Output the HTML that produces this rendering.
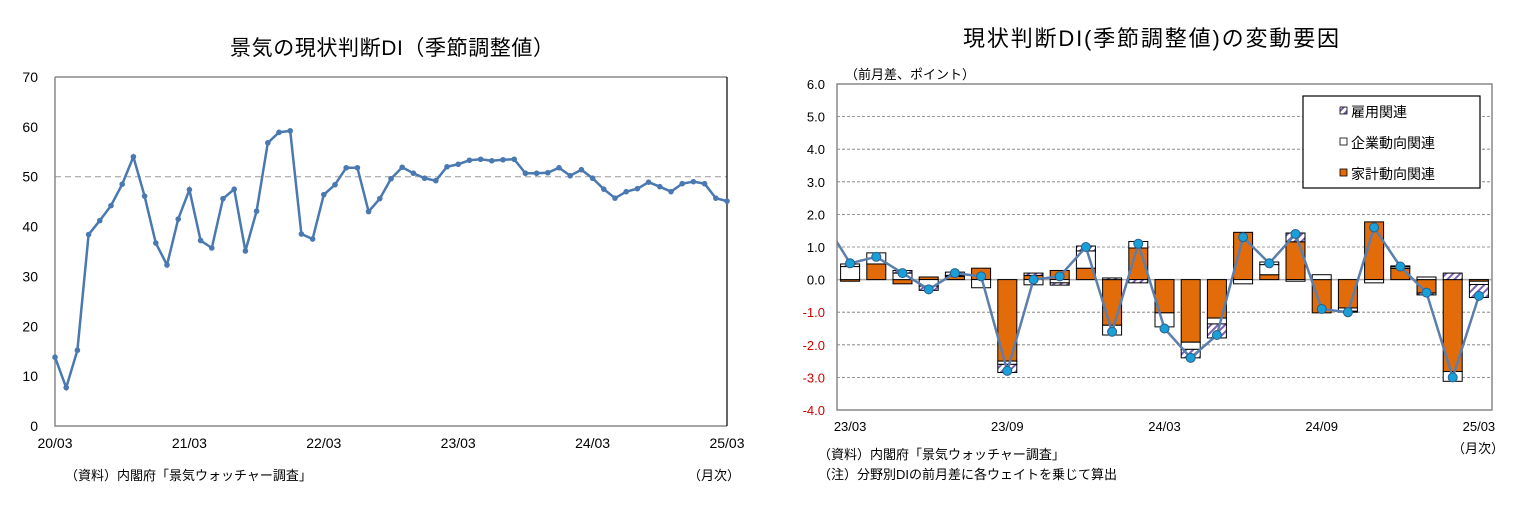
<!DOCTYPE html>
<html><head><meta charset="utf-8">
<style>
body{margin:0;background:#fff;width:1529px;height:521px;overflow:hidden;font-family:"Liberation Sans","Noto Sans CJK JP",sans-serif;}
svg text{font-family:"Liberation Sans","Noto Sans CJK JP",sans-serif;}
</style></head>
<body>
<svg id="svg" width="1529" height="521" xmlns="http://www.w3.org/2000/svg">
<defs>
<pattern id="hatch" width="5" height="5" patternUnits="userSpaceOnUse" patternTransform="rotate(45)">
<rect width="5" height="5" fill="#fff"/><rect width="2" height="5" fill="#7b5fb0"/>
</pattern>
</defs>
<text x="392" y="55" font-size="21" text-anchor="middle" textLength="324">景気の現状判断DI（季節調整値）</text>
<text x="1151" y="46" font-size="22" text-anchor="middle" textLength="376">現状判断DI(季節調整値)の変動要因</text>
<g id="left"></g>
<g id="right"></g>
<text x="65" y="480" font-size="13">（資料）内閣府「景気ウォッチャー調査」</text>
<text x="688" y="480" font-size="13">（月次）</text>
<text x="845" y="79" font-size="13">（前月差、ポイント）</text>
<text x="1452" y="453" font-size="13">（月次）</text>
<text x="818" y="459" font-size="13">（資料）内閣府「景気ウォッチャー調査」</text>
<text x="818" y="479" font-size="13">（注）分野別DIの前月差に各ウェイトを乗じて算出</text>
</svg>
<script>
// ---- left chart data ----
const diValues=[13.8,7.7,15.2,38.4,41.2,44.2,48.5,54.0,46.1,36.7,32.3,41.5,47.4,37.2,35.7,45.6,47.5,35.1,43.1,56.8,58.9,59.2,38.5,37.5,46.4,48.4,51.8,51.8,43.0,45.6,49.6,51.9,50.7,49.7,49.2,52.0,52.5,53.3,53.5,53.2,53.4,53.5,50.7,50.7,50.8,51.8,50.2,51.4,49.7,47.5,45.7,47.0,47.6,48.9,48.0,47.0,48.6,49.0,48.6,45.7,45.1];
const leftYTicks=[0,10,20,30,40,50,60,70];
const leftXLabels=["20/03","21/03","22/03","23/03","24/03","25/03"];
const leftRefLine=[50];
// ---- right chart data ----
const rightCats=["23/03","23/04","23/05","23/06","23/07","23/08","23/09","23/10","23/11","23/12","24/01","24/02","24/03","24/04","24/05","24/06","24/07","24/08","24/09","24/10","24/11","24/12","25/01","25/02","25/03"];
const household=[-0.05,0.48,-0.13,0.08,0.1,0.35,-2.5,0.13,0.28,0.35,-1.4,0.97,-1.02,-1.92,-1.18,1.45,0.15,1.16,-1.02,-0.87,1.77,0.34,-0.41,-2.82,-0.05];
const corporate=[0.4,0.34,0.2,-0.2,0.03,-0.25,-0.1,-0.16,-0.1,0.53,-0.3,0.2,-0.43,-0.22,-0.18,-0.13,0.31,-0.05,0.15,-0.1,-0.1,0.05,0.08,-0.3,-0.1];
const employment=[0.08,0,0.08,-0.13,0.1,0,-0.25,0.07,-0.07,0.15,0.05,-0.1,0,-0.26,-0.43,0,0.08,0.27,0,-0.03,0,0.03,-0.06,0.2,-0.4];
const totalDI=[0.5,0.7,0.2,-0.3,0.2,0.1,-2.8,0.0,0.1,1.0,-1.6,1.1,-1.5,-2.4,-1.7,1.3,0.5,1.4,-0.9,-1.0,1.6,0.4,-0.4,-3.0,-0.5];
const prevTotal=[1.8];
const rightYTicks=[-4,-3,-2,-1,0,1,2,3,4,5,6];
const rightXLabels=["23/03","23/09","24/03","24/09","25/03"];

const NS="http://www.w3.org/2000/svg";
function mk(parent,tag,attrs){const e=document.createElementNS(NS,tag);for(const k in attrs)e.setAttribute(k,attrs[k]);parent.appendChild(e);return e;}

// ===== left =====
(function(){
const g=document.getElementById('left');
const L=55,R=727,T=77,B=426,ymin=0,ymax=70;
const y=v=>B-(v-ymin)/(ymax-ymin)*(B-T);
const x=i=>L+i*(R-L)/(diValues.length-1);
leftRefLine.forEach(v=>{const l=mk(g,'line',{x1:L,x2:R,y1:y(v),y2:y(v),stroke:'#999','stroke-dasharray':'6,4','stroke-width':1});

});
const ax=mk(g,'path',{d:`M${L},${T}H${R}M${L},${T}V${B}H${R}`,stroke:'#888',fill:'none','stroke-width':1.5});


const rb=mk(g,'line',{x1:R,x2:R,y1:T,y2:B,stroke:'#000','stroke-width':1.2});


leftYTicks.forEach(v=>{const t=mk(g,'text',{x:38,y:y(v)+5,'font-size':14,'text-anchor':'end'});t.textContent=v;

});
leftXLabels.forEach((s,k)=>{const t=mk(g,'text',{x:x(k*12),y:448,'font-size':14,'text-anchor':'middle'});t.textContent=s;

});
const pl=mk(g,'polyline',{points:diValues.map((v,i)=>x(i)+','+y(v)).join(' '),fill:'none',stroke:'#4a78b0','stroke-width':2.5});


diValues.forEach((v,i)=>{const c=mk(g,'circle',{cx:x(i),cy:y(v),r:2.8,fill:'#4a78b0'});

});
})();

// ===== right =====
(function(){
const g=document.getElementById('right');
const L=837,R=1492,T=84,B=410,ymin=-4,ymax=6;
const y=v=>B-(v-ymin)/(ymax-ymin)*(B-T);
const step=(R-L)/rightCats.length;
const cx=i=>L+step*(i+0.5);
rightYTicks.forEach(v=>{
 if(v>ymin&&v<ymax&&v!==0){const l=mk(g,'line',{x1:L,x2:R,y1:y(v),y2:y(v),stroke:'#777','stroke-dasharray':'3,2','stroke-width':0.8});
 
 }
 const t=mk(g,'text',{x:825,y:y(v)+5,'font-size':13,'text-anchor':'end',fill:v<0?'#d00000':'#000'});t.textContent=v.toFixed(1);
 
 
});
const zl=mk(g,'line',{x1:L,x2:R,y1:y(0),y2:y(0),stroke:'#aaa','stroke-width':1.5});


const bw=19;
rightCats.forEach((c,i)=>{
 let pos=0,neg=0;
 [[household[i],'#e36c0a','household'],[corporate[i],'#fff','corporate'],[employment[i],'url(#hatch)','employment']].forEach(([v,f,n])=>{
  if(!v)return;
  let a,b;
  if(v>0){a=pos;b=pos+v;pos=b;}else{a=neg;b=neg+v;neg=b;}
  const r=mk(g,'rect',{x:cx(i)-bw/2,y:Math.min(y(a),y(b)),width:bw,height:Math.abs(y(a)-y(b)),fill:f,stroke:'#000','stroke-width':1});
  
  
 });
});
const fr=mk(g,'rect',{x:L,y:T,width:R-L,height:B-T,fill:'none',stroke:'#888','stroke-width':1.5});


const clip=mk(g,'clipPath',{id:'rc'});mk(clip,'rect',{x:L,y:T,width:R-L,height:B-T});
const pts=[[cx(-1),y(prevTotal[0])]].concat(totalDI.map((v,i)=>[cx(i),y(v)]));
const pl=mk(g,'polyline',{points:pts.map(p=>p.join(',')).join(' '),fill:'none',stroke:'#5b7fad','stroke-width':2.5,'clip-path':'url(#rc)'});


totalDI.forEach((v,i)=>{const c=mk(g,'circle',{cx:cx(i),cy:y(v),r:4.5,fill:'#1aa0d8',stroke:'#2a5f8a','stroke-width':1});

});
rightXLabels.forEach((s,k)=>{const t=mk(g,'text',{x:cx(k*6),y:431,'font-size':13,'text-anchor':'middle'});t.textContent=s;

});
// legend
const lg=mk(g,'g',{});


mk(lg,'rect',{x:1303,y:96,width:177,height:92,fill:'#fff',stroke:'#000','stroke-width':1.2});
[['url(#hatch)','雇用関連',112],['#fff','企業動向関連',143],['#e36c0a','家計動向関連',174]].forEach(([f,s,yy])=>{
 const e=mk(lg,'g',{});
 
 
 mk(e,'rect',{x:1340,y:yy-5,width:7,height:7,fill:f,stroke:'#000','stroke-width':0.8});
 const t=mk(e,'text',{x:1351,y:yy+5,'font-size':14});t.textContent=s;
});
})();
</script>
</body></html>
